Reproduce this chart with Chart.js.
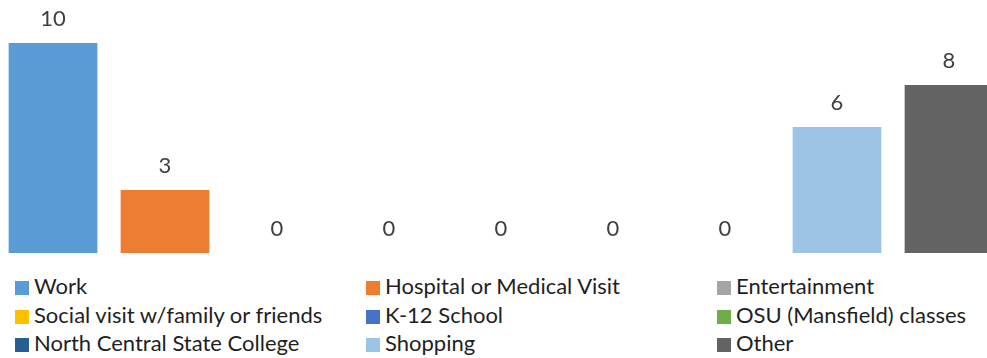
<!DOCTYPE html>
<html>
<head>
<meta charset="utf-8">
<script src="https://cdn.jsdelivr.net/npm/chart.js@4/dist/chart.umd.min.js"></script>
<style>
  html, body { margin: 0; padding: 0; background: #ffffff; }
  #wrap { position: relative; width: 987px; height: 358px; overflow: hidden; background: #ffffff; }
  #plot { position: absolute; left: -3px; top: 0; width: 1008px; height: 253px; }
  #legend { position: absolute; left: 0; top: 273px; width: 987px; height: 85px;
            font-family: Lato, "Noto Sans", sans-serif; font-size: 22px; color: #1f1f1f; }
  .item { position: absolute; height: 29px; line-height: 26px; white-space: nowrap; }
  .swatch { display: inline-block; width: 14px; height: 14px; margin-right: 5px; vertical-align: -1px; }
</style>
</head>
<body>
<div id="wrap">
  <div id="plot"><canvas id="chart"></canvas></div>
  <div id="legend"></div>
</div>
<script>
// Trip purposes and counts
const purposes = [
  "Work",
  "Hospital or Medical Visit",
  "Entertainment",
  "Social visit w/family or friends",
  "K-12 School",
  "OSU (Mansfield) classes",
  "North Central State College",
  "Shopping",
  "Other"
];
const counts = [10, 3, 0, 0, 0, 0, 0, 6, 8];
const colors = ["#5B9BD5", "#ED7D31", "#A5A5A5", "#FFC000", "#4472C4", "#70AD47", "#255E91", "#9DC3E6", "#636363"];

// Number printed above each bar
const valueLabels = {
  id: "valueLabels",
  afterDatasetsDraw(chart) {
    const ctx = chart.ctx;
    ctx.save();
    ctx.font = "22px Lato, 'Noto Sans', sans-serif";
    ctx.fillStyle = "#404040";
    ctx.textAlign = "center";
    ctx.textBaseline = "alphabetic";
    chart.data.datasets.forEach((ds, i) => {
      const meta = chart.getDatasetMeta(i);
      meta.data.forEach((bar, j) => {
        ctx.fillText(String(ds.data[j]), bar.x, bar.y - 17);
      });
    });
    ctx.restore();
  }
};

const chart = new Chart(document.getElementById("chart"), {
  type: "bar",
  data: {
    labels: [""],
    datasets: purposes.map((p, i) => ({
      label: p,
      data: [counts[i]],
      backgroundColor: colors[i],
      borderWidth: 0,
      categoryPercentage: 1,
      barPercentage: 0.792
    }))
  },
  options: {
    responsive: true,
    maintainAspectRatio: false,
    animation: false,
    layout: { padding: { top: 1, bottom: 0, left: 0, right: 0 } },
    scales: {
      x: { display: false },
      y: { display: false, min: 0, max: 12 }
    },
    plugins: {
      legend: { display: false },
      tooltip: { enabled: false }
    }
  },
  plugins: [valueLabels]
});

// Legend in three columns, filled row by row
const legendEl = document.getElementById("legend");
const colLeft = [15, 366, 717];
chart.data.datasets.forEach((ds, i) => {
  const item = document.createElement("div");
  item.className = "item";
  item.style.left = colLeft[i % 3] + "px";
  item.style.top = (Math.floor(i / 3) * 28.5) + "px";
  const sw = document.createElement("span");
  sw.className = "swatch";
  sw.style.background = ds.backgroundColor;
  item.appendChild(sw);
  item.appendChild(document.createTextNode(ds.label));
  legendEl.appendChild(item);
});
</script>
</body>
</html>
